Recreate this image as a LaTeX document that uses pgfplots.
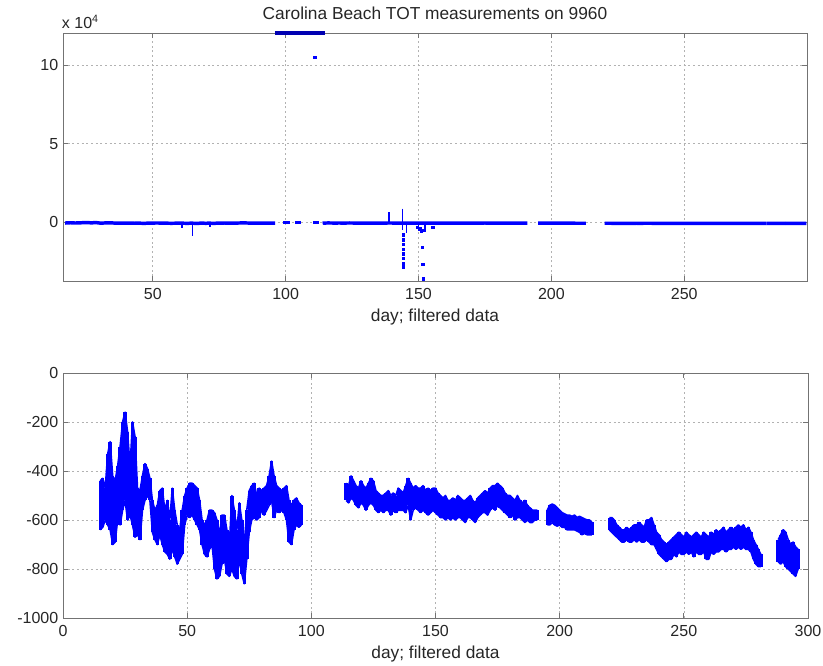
\documentclass[border=0pt]{standalone}
\usepackage{pgfplots}
\pgfplotsset{compat=1.18}
\usepackage{pgfplotstable}
\usepackage{fontspec}
\setmainfont{Liberation Sans}

% filtered data: envelope (upper / lower) of the dense point cloud, per day
\pgfplotstableread{
d hi lo
15 -440 -640
16 -430 -630
17 -470 -600
18 -330 -620
19 -280 -640
20 -420 -700
21 -440 -690
22 -380 -600
23 -300 -620
24 -200 -560
25 -160 -520
26 -240 -600
27 -380 -580
28 -200 -620
29 -260 -670
30 -470 -660
31 -480 -680
32 -420 -560
33 -370 -520
34 -390 -500
35 -430 -520
36 -520 -650
37 -560 -680
38 -540 -700
39 -480 -660
40 -470 -700
41 -560 -730
42 -520 -740
43 -600 -760
44 -470 -720
45 -560 -750
46 -620 -780
47 -640 -760
48 -560 -740
49 -500 -620
50 -470 -580
51 -450 -590
52 -450 -580
53 -460 -600
54 -470 -620
55 -520 -640
56 -600 -700
57 -620 -740
58 -600 -750
59 -560 -720
60 -560 -700
61 -570 -800
62 -600 -840
63 -660 -830
64 -580 -780
65 -580 -760
66 -640 -820
67 -700 -830
68 -500 -800
69 -560 -830
70 -640 -840
71 -530 -760
72 -600 -820
73 -700 -860
74 -560 -760
75 -480 -650
76 -460 -600
77 -450 -590
78 -500 -600
79 -470 -590
80 -480 -560
81 -470 -580
82 -460 -560
83 -420 -540
84 -360 -520
85 -420 -590
86 -460 -560
87 -470 -570
88 -480 -560
89 -470 -570
90 -460 -600
91 -520 -690
92 -540 -700
93 -520 -640
94 -510 -620
95 -530 -630
96 -540 -620
}\segA
\pgfplotstableread{
d hi lo
114 -450 -520
115 -460 -530
116 -420 -510
117 -440 -520
118 -460 -540
119 -470 -550
120 -440 -530
121 -460 -540
122 -470 -560
123 -450 -540
124 -430 -530
125 -440 -540
126 -480 -560
127 -490 -570
128 -500 -560
129 -500 -570
130 -490 -560
131 -480 -560
132 -500 -580
133 -490 -560
134 -500 -570
135 -470 -560
136 -480 -560
137 -490 -560
138 -460 -570
139 -430 -540
140 -450 -600
141 -470 -560
142 -460 -550
143 -470 -560
144 -470 -570
145 -460 -560
146 -480 -570
147 -470 -580
148 -480 -570
149 -470 -560
150 -470 -570
151 -490 -580
152 -500 -590
153 -510 -590
154 -500 -600
155 -520 -590
156 -520 -600
157 -510 -590
158 -520 -600
159 -500 -590
160 -510 -590
161 -520 -600
162 -520 -610
163 -510 -590
164 -500 -590
165 -520 -600
166 -530 -610
167 -510 -590
168 -500 -580
169 -490 -570
170 -480 -570
171 -490 -580
172 -470 -560
173 -460 -550
174 -460 -560
175 -450 -540
176 -460 -550
177 -470 -560
178 -490 -570
179 -500 -580
180 -500 -590
181 -510 -580
182 -520 -600
183 -500 -590
184 -520 -590
185 -530 -600
186 -520 -610
187 -540 -600
188 -550 -610
189 -560 -610
190 -560 -600
191 -560 -600
}\segB
\pgfplotstableread{
d hi lo
195 -560 -620
196 -540 -620
197 -535 -610
198 -540 -620
199 -550 -625
200 -560 -620
201 -570 -630
202 -575 -630
203 -580 -640
204 -580 -640
205 -585 -640
206 -580 -640
207 -590 -645
208 -585 -650
209 -590 -660
210 -595 -655
211 -600 -660
212 -600 -660
213 -610 -660
}\segC
\pgfplotstableread{
d hi lo
220 -590 -640
221 -590 -650
222 -600 -660
223 -620 -670
224 -630 -680
225 -640 -690
226 -640 -690
227 -630 -680
228 -640 -690
229 -630 -690
230 -620 -680
231 -620 -690
232 -610 -680
233 -620 -690
234 -630 -690
235 -600 -680
236 -600 -690
237 -590 -700
238 -620 -700
239 -650 -720
240 -660 -740
241 -680 -750
242 -690 -760
243 -700 -770
244 -690 -760
245 -680 -760
246 -670 -740
247 -660 -750
248 -650 -730
249 -660 -740
250 -670 -740
251 -650 -730
252 -660 -740
253 -670 -730
254 -660 -750
255 -650 -730
256 -660 -740
257 -670 -740
258 -650 -730
259 -660 -760
260 -670 -760
261 -650 -730
262 -660 -740
263 -640 -730
264 -650 -730
265 -640 -720
266 -630 -720
267 -650 -730
268 -640 -720
269 -630 -720
270 -640 -710
271 -630 -720
272 -620 -710
273 -630 -720
274 -620 -710
275 -640 -720
276 -630 -720
277 -650 -730
278 -680 -760
279 -700 -780
280 -720 -790
281 -740 -790
}\segD
\pgfplotstableread{
d hi lo
288 -680 -770
289 -660 -780
290 -640 -770
291 -650 -790
292 -680 -800
293 -700 -810
294 -690 -820
295 -710 -830
296 -720 -800
}\segE

\definecolor{mblue}{RGB}{0,0,255}

\pgfplotsset{
  ml/.style={
    scale only axis,
    axis line style={black!55, line width=0.7pt},
    tick style={black!55, line width=0.6pt},
    tick align=inside,
    major tick length=4pt,
    grid=major,
    major grid style={black!30, dash pattern=on 1.5pt off 2pt, line width=0.5pt},
    tick label style={font=\fontsize{12}{14}\selectfont, text=black!85},
    xticklabel style={yshift=-2pt},
    label style={font=\fontsize{13}{15}\selectfont, text=black!85},
    xlabel={day; filtered data},
    xlabel style={at={(axis description cs:0.5,0)}, anchor=base, yshift=-30.5pt},
  },
  bars/.style={mblue, line width=1.2pt, mark=none, line join=round,
    error bars/.cd, y dir=minus, y explicit, error mark=none,
    error bar style={line width=2.6pt, mblue}},
  edge/.style={mblue, line width=1.2pt, mark=none, line join=round},
  topband/.style={mblue, line width=2.6pt, mark=none, restrict x to domain=16.2:296.2},
}

\begin{document}
\begin{tikzpicture}
\path[use as bounding box] (0,0) rectangle (617.25pt,-499.5pt);

% ---------------- top axis ----------------
\begin{axis}[ml,
  at={(47.25pt,-24.75pt)}, anchor=north west,
  width=558pt, height=186pt,
  xmin=16.2, xmax=296.2, ymin=-3.73, ymax=12.03,
  xtick={50,100,150,200,250}, xticklabels={50,100,150,200,250},
  ytick={0,5,10}, yticklabels={0,5,10},
  title={Carolina Beach TOT measurements on 9960},
  title style={at={(axis description cs:0.5,1)}, anchor=base, yshift=4pt, font=\fontsize{13}{15}\selectfont, text=black!85},
  clip=false,
  unbounded coords=jump,
]
\addplot[topband] table[x=d, y expr=\thisrow{hi}/10000] {\segA};
\addplot[topband] table[x=d, y expr=\thisrow{hi}/10000] {\segB};
\addplot[topband] table[x=d, y expr=\thisrow{hi}/10000] {\segC};
\addplot[topband] table[x=d, y expr=\thisrow{hi}/10000] {\segD};
\addplot[topband] table[x=d, y expr=\thisrow{hi}/10000] {\segE};
\addplot[topband] coordinates {(281,-0.075) (288,-0.07)};
\addplot[topband] coordinates {(113.9,-0.05) (114,-0.045)};
% saturated values at the top edge
\addplot[mblue!70!black, line width=3.5pt] coordinates {(95.9,12.03) (114.7,12.03)};
% spikes
\addplot[mblue, line width=1.2pt] coordinates {
 (61,0) (61,-0.35) (61,nan)
 (65,0) (65,-0.85) (65,nan)
 (71.5,0) (71.5,-0.3) (71.5,nan)
 (138.9,0) (138.9,0.65) (138.9,nan)
 (143.9,0.87) (143.9,-0.5) (143.9,nan)
 (145.4,0) (145.4,-0.7) (145.4,nan)
 (150,0) (150,-0.5) (150,nan)
 (152.5,0) (152.5,-0.6)
};
\addplot[mblue, only marks, mark=square*, mark size=0.9pt] coordinates {
 (99.7,0) (100.8,0) (104,0) (105,0) (111,0) (112,0)
 (110.9,10.49)
 (144.2,-0.8) (144.2,-1.1) (144.2,-1.4) (144.2,-1.7) (144.2,-2.0)
 (144.2,-2.3) (144.2,-2.6) (144.2,-2.83)
 (151.5,-1.6) (151.6,-2.66) (151.7,-3.6) (155.3,-0.3)
 (150.5,-0.4) (151,-0.55) (152,-0.5) (149.5,-0.3)
};
\node[anchor=base west, font=\fontsize{12}{14}\selectfont, text=black!85, inner sep=0pt]
  at ([xshift=-1pt, yshift=3.5pt]rel axis cs:0,1) {x 10\textsuperscript{4}};
\end{axis}

% ---------------- bottom axis ----------------
\begin{axis}[ml,
  at={(47.25pt,-279.75pt)}, anchor=north west,
  width=558.75pt, height=183.75pt,
  xmin=0, xmax=300, ymin=-1000, ymax=0,
  xtick={0,50,100,150,200,250,300}, xticklabels={0,50,100,150,200,250,300},
  ytick={-1000,-800,-600,-400,-200,0}, yticklabels={-1000,-800,-600,-400,-200,0},
]
\addplot[bars] table[x=d, y=hi, y error expr=\thisrow{hi}-\thisrow{lo}] {\segA};
\addplot[edge] table[x=d, y=lo] {\segA};
\addplot[bars] table[x=d, y=hi, y error expr=\thisrow{hi}-\thisrow{lo}] {\segB};
\addplot[edge] table[x=d, y=lo] {\segB};
\addplot[bars] table[x=d, y=hi, y error expr=\thisrow{hi}-\thisrow{lo}] {\segC};
\addplot[edge] table[x=d, y=lo] {\segC};
\addplot[bars] table[x=d, y=hi, y error expr=\thisrow{hi}-\thisrow{lo}] {\segD};
\addplot[edge] table[x=d, y=lo] {\segD};
\addplot[bars] table[x=d, y=hi, y error expr=\thisrow{hi}-\thisrow{lo}] {\segE};
\addplot[edge] table[x=d, y=lo] {\segE};
\end{axis}
\end{tikzpicture}
\end{document}
